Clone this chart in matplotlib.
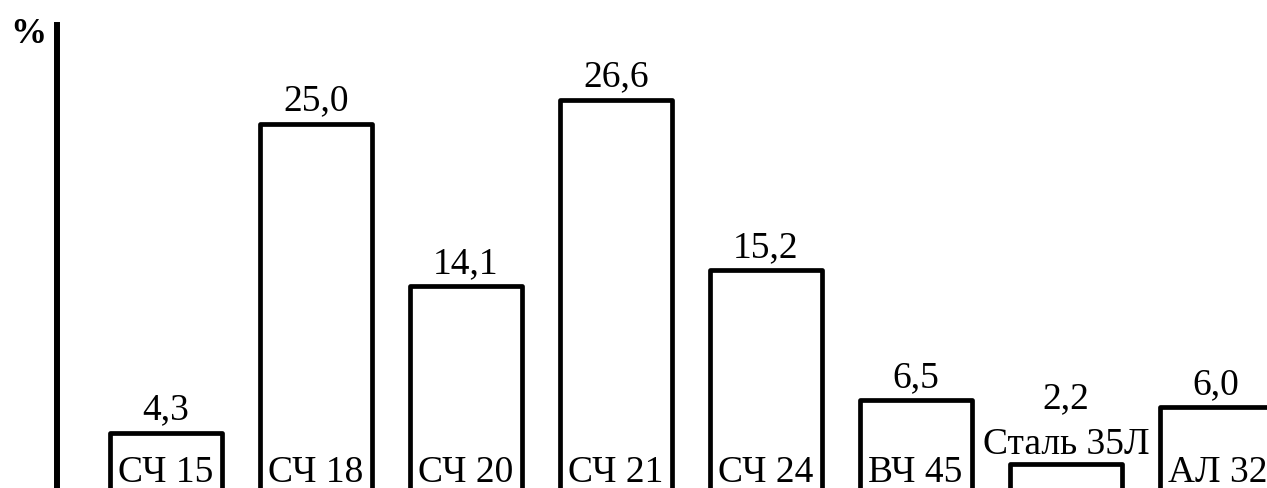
import matplotlib.pyplot as plt

plt.rcParams['font.family'] = ['Liberation Serif', 'DejaVu Serif']

grades = ["СЧ 15", "СЧ 18", "СЧ 20", "СЧ 21", "СЧ 24", "ВЧ 45", "Сталь 35Л", "АЛ 32"]
shares = [4.3, 25.0, 14.1, 26.6, 15.2, 6.5, 2.2, 6.0]
outside = ["Сталь 35Л"]  # label goes above the bar, it's too short

W, H = 1267, 488
fig = plt.figure(figsize=(W / 100, H / 100), dpi=100)
ax = fig.add_axes([57 / W, 0, 1 - 57 / W, 1 - 25 / H])

xs = list(range(len(grades)))
width = 0.747
ax.bar(xs, shares, width=width, color="white", edgecolor="black",
       linewidth=3.4, joinstyle="round")

ax.set_xlim((57 - 166) / 150, (W - 166) / 150)
ax.set_ylim((497 - 488) / 14.94, (497 - 25) / 14.94)

fs = 27
for x, name, v in zip(xs, grades, shares):
    val = f"{v:.1f}".replace(".", ",")
    if name in outside:
        ax.annotate(name, (x, v), xytext=(0, 7), textcoords="offset points",
                    ha="center", va="baseline", fontsize=fs)
        ax.annotate(val, (x, v), xytext=(0, 40), textcoords="offset points",
                    ha="center", va="baseline", fontsize=fs)
    else:
        ax.text(x - width / 2 + 0.055, 1.0, name, ha="left", va="baseline",
                fontsize=fs)
        ax.annotate(val, (x, v), xytext=(0, 9.5), textcoords="offset points",
                    ha="center", va="baseline", fontsize=fs)

for s in ["top", "right", "bottom"]:
    ax.spines[s].set_visible(False)
ax.spines["left"].set_linewidth(4.3)
ax.set_xticks([])
ax.set_yticks([])

fig.text(28 / W, 1 - 43 / H, "%", ha="center", va="baseline",
         fontsize=26, fontweight="bold")

fig.savefig("out.png", dpi=100)
